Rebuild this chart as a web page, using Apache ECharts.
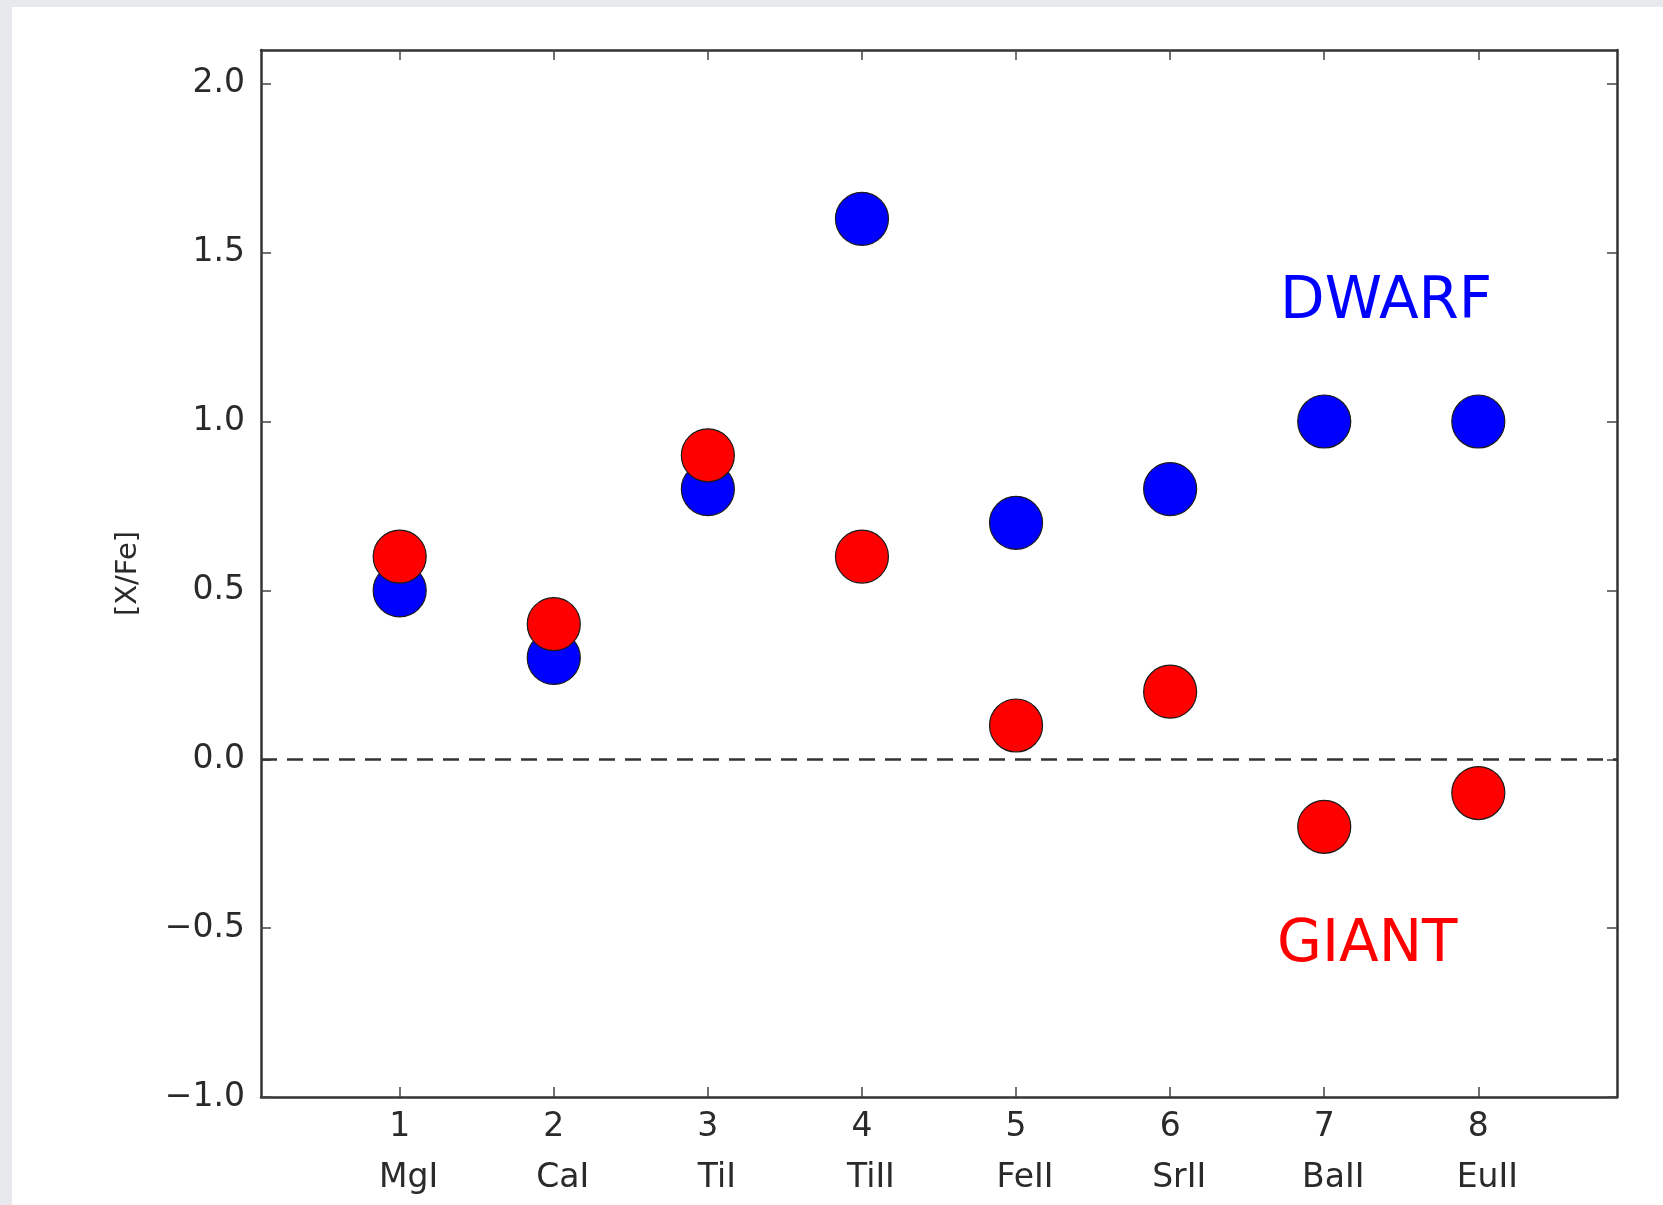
<!DOCTYPE html>
<html>
<head>
<meta charset="utf-8">
<script src="https://cdn.jsdelivr.net/npm/echarts@6/dist/echarts.min.js"></script>
<style>
html,body{margin:0;padding:0;background:#e7e9ed;width:1663px;height:1205px;overflow:hidden;}
#chart{position:absolute;left:12px;top:7px;width:1651px;height:1198px;background:#ffffff;}
</style>
</head>
<body>
<div id="chart"></div>
<script>
const positions = [1, 2, 3, 4, 5, 6, 7, 8];
const elements = ['MgI', 'CaI', 'TiI', 'TiII', 'FeII', 'SrII', 'BaII', 'EuII'];
const dwarf = [0.5, 0.3, 0.8, 1.6, 0.7, 0.8, 1.0, 1.0];
const giant = [0.6, 0.4, 0.9, 0.6, 0.1, 0.2, -0.2, -0.1];
const yTicks = [-1.0, -0.5, 0.0, 0.5, 1.0, 1.5, 2.0];
const dwarfLabel = {text: 'DWARF', x: 6.71, y: 1.352};
const giantLabel = {text: 'GIANT', x: 6.69, y: -0.552};

const FONT = 'DejaVu Sans';
const TXT = '#2a2a2a';
const LINE = '#333333';

const chart = echarts.init(document.getElementById('chart'), null, {renderer: 'canvas'});

function fmtY(v) {
  const s = Math.abs(v).toFixed(1);
  return (v < -1e-9 ? '\u2212' : '') + s;
}

function axisLineStyle() {
  return {show: true, onZero: false, lineStyle: {color: LINE, width: 2.5}};
}
function tickStyle(vals) {
  return {show: true, inside: true, length: 10, customValues: vals, lineStyle: {color: '#444', width: 1.5}};
}

const option = {
  animation: false,
  grid: {left: 249, top: 43, right: 46, bottom: 108, show: false},
  xAxis: [
    {
      type: 'value', position: 'bottom', min: 0.1, max: 8.9,
      axisLine: axisLineStyle(),
      axisTick: tickStyle(positions),
      splitLine: {show: false},
      axisLabel: {
        customValues: positions,
        margin: 10,
        formatter: function (v) {
          const i = positions.indexOf(Math.round(v));
          return '{n|' + Math.round(v) + '}\n{e|' + (i >= 0 ? elements[i] : '') + '}';
        },
        rich: {
          n: {fontFamily: FONT, fontSize: 33, color: TXT, lineHeight: 40, align: 'center'},
          e: {fontFamily: FONT, fontSize: 33, color: TXT, lineHeight: 62, align: 'center', padding: [0, 0, 0, 18]}
        }
      }
    },
    {
      type: 'value', position: 'top', min: 0.1, max: 8.9,
      axisLine: axisLineStyle(),
      axisTick: tickStyle(positions),
      splitLine: {show: false},
      axisLabel: {show: false}
    }
  ],
  yAxis: [
    {
      type: 'value', position: 'left', min: -1, max: 2.1, interval: 0.5,
      axisLine: axisLineStyle(),
      axisTick: tickStyle(yTicks),
      splitLine: {show: false},
      axisLabel: {
        customValues: yTicks,
        margin: 16, fontFamily: FONT, fontSize: 33, color: TXT,
        formatter: fmtY
      },
      name: '[X/Fe]', nameLocation: 'middle', nameGap: 118, nameRotate: 90,
      nameTextStyle: {fontFamily: FONT, fontSize: 29, color: TXT}
    },
    {
      type: 'value', position: 'right', min: -1, max: 2.1, interval: 0.5,
      axisLine: axisLineStyle(),
      axisTick: tickStyle(yTicks),
      splitLine: {show: false},
      axisLabel: {show: false}
    }
  ],
  series: [
    {
      name: 'DWARF', type: 'scatter', xAxisIndex: 0, yAxisIndex: 0,
      symbol: 'circle', symbolSize: 53,
      itemStyle: {color: '#0000ff', borderColor: '#1a1a1a', borderWidth: 1.2, opacity: 1},
      data: positions.map((p, i) => [p, dwarf[i]]),
      z: 3,
      markLine: {
        silent: true, symbol: 'none',
        label: {show: false},
        lineStyle: {color: '#333333', type: [16, 10], width: 2.5},
        data: [{yAxis: 0}]
      },
      markPoint: {
        symbol: 'circle', symbolSize: 1,
        itemStyle: {color: 'rgba(0,0,0,0)'},
        label: {
          show: true, position: 'right', distance: 0,
          formatter: dwarfLabel.text,
          fontFamily: FONT, fontSize: 58, color: '#0000ff', verticalAlign: 'middle'
        },
        data: [{coord: [dwarfLabel.x, dwarfLabel.y]}]
      }
    },
    {
      name: 'GIANT', type: 'scatter', xAxisIndex: 0, yAxisIndex: 0,
      symbol: 'circle', symbolSize: 53,
      itemStyle: {color: '#ff0000', borderColor: '#1a1a1a', borderWidth: 1.2, opacity: 1},
      data: positions.map((p, i) => [p, giant[i]]),
      z: 4,
      markPoint: {
        symbol: 'circle', symbolSize: 1,
        itemStyle: {color: 'rgba(0,0,0,0)'},
        label: {
          show: true, position: 'right', distance: 0,
          formatter: giantLabel.text,
          fontFamily: FONT, fontSize: 58, color: '#ff0000', verticalAlign: 'middle'
        },
        data: [{coord: [giantLabel.x, giantLabel.y]}]
      }
    }
  ]
};
chart.setOption(option);
</script>
</body>
</html>
